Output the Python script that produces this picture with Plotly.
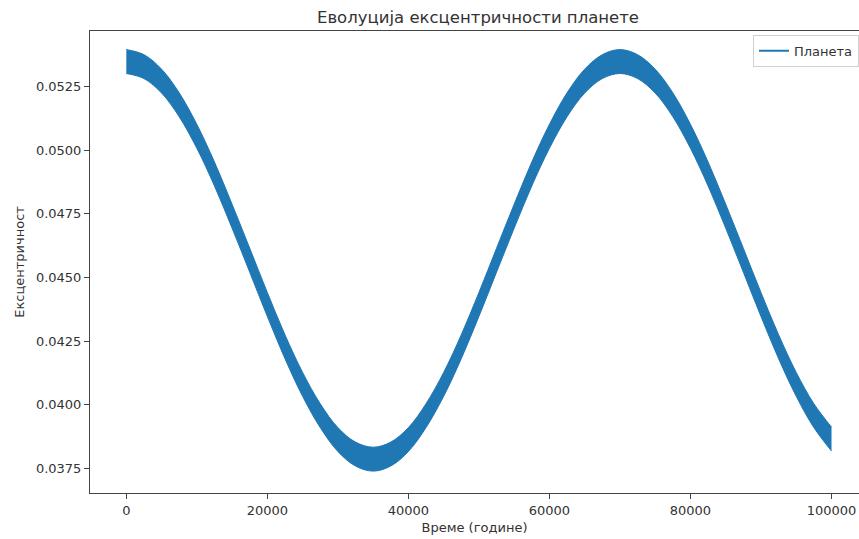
import plotly.graph_objects as go

# Time in years
years = [i * 2500 for i in range(41)]

# Upper and lower edges of the eccentricity band (fast oscillation fills the band)
ecc_upper = [0.05396, 0.05376, 0.05319, 0.05226, 0.05102, 0.04954, 0.04788, 0.04615,
             0.04441, 0.04275, 0.04127, 0.04004, 0.03910, 0.03853, 0.03833, 0.03853,
             0.03910, 0.04004, 0.04127, 0.04275, 0.04441, 0.04615, 0.04788, 0.04954,
             0.05102, 0.05226, 0.05319, 0.05376, 0.05396, 0.05376, 0.05319, 0.05226,
             0.05102, 0.04954, 0.04788, 0.04615, 0.04441, 0.04275, 0.04127, 0.04004,
             0.03912]
ecc_lower = [0.05302, 0.05282, 0.05225, 0.05132, 0.05008, 0.04860, 0.04694, 0.04521,
             0.04347, 0.04181, 0.04033, 0.03910, 0.03816, 0.03759, 0.03739, 0.03759,
             0.03816, 0.03910, 0.04033, 0.04181, 0.04347, 0.04521, 0.04694, 0.04860,
             0.05008, 0.05132, 0.05225, 0.05282, 0.05302, 0.05282, 0.05225, 0.05132,
             0.05008, 0.04860, 0.04694, 0.04521, 0.04347, 0.04181, 0.04033, 0.03910,
             0.03818]

x_ticks = [0, 20000, 40000, 60000, 80000, 100000]
y_ticks = [0.0375, 0.0400, 0.0425, 0.0450, 0.0475, 0.0500, 0.0525]

BLUE = "#1f77b4"
FONT = "DejaVu Sans"
TXT = "#333333"

fig = go.Figure()
fig.add_trace(go.Scatter(x=years, y=ecc_lower, mode="lines",
                         line=dict(color=BLUE, width=1, shape="spline"),
                         showlegend=False, hoverinfo="skip"))
fig.add_trace(go.Scatter(x=years, y=ecc_upper, mode="lines",
                         line=dict(color=BLUE, width=1, shape="spline"),
                         fill="tonexty", fillcolor=BLUE,
                         showlegend=False, hoverinfo="skip"))
# Legend entry
fig.add_trace(go.Scatter(x=[None], y=[None], mode="lines", name="Планета",
                         line=dict(color=BLUE, width=2)))

fig.update_layout(
    width=859, height=539,
    margin=dict(l=90, r=0, t=31, b=46),
    paper_bgcolor="white", plot_bgcolor="white",
    font=dict(family=FONT, size=13, color=TXT),
    title=dict(text="Еволуција ексцентричности планете", x=478 / 859, xanchor="center",
               y=1 - 17 / 539, yanchor="middle", font=dict(family=FONT, size=16.5, color=TXT)),
    legend=dict(x=1, xanchor="right", y=0.992, yanchor="top",
                bordercolor="#d0d0d0", borderwidth=1, bgcolor="white",
                font=dict(family=FONT, size=13, color=TXT), itemwidth=30),
    xaxis=dict(range=[-5150, 103900], tickvals=x_ticks, ticktext=[str(v) for v in x_ticks],
               showgrid=False, zeroline=False, showline=True, linecolor="#444", linewidth=1,
               mirror=True, ticks="outside", ticklen=5, tickcolor="#444",
               title=dict(text="Време (године)", standoff=6, font=dict(family=FONT, size=13, color=TXT))),
    yaxis=dict(range=[0.03653, 0.05469], tickvals=y_ticks, ticktext=[f"{v:.4f}" for v in y_ticks],
               showgrid=False, zeroline=False, showline=True, linecolor="#444", linewidth=1,
               ticks="outside", ticklen=5, tickcolor="#444",
               title=dict(text="Ексцентричност", standoff=8, font=dict(family=FONT, size=13, color=TXT))),
)

fig.write_html("out.html")
